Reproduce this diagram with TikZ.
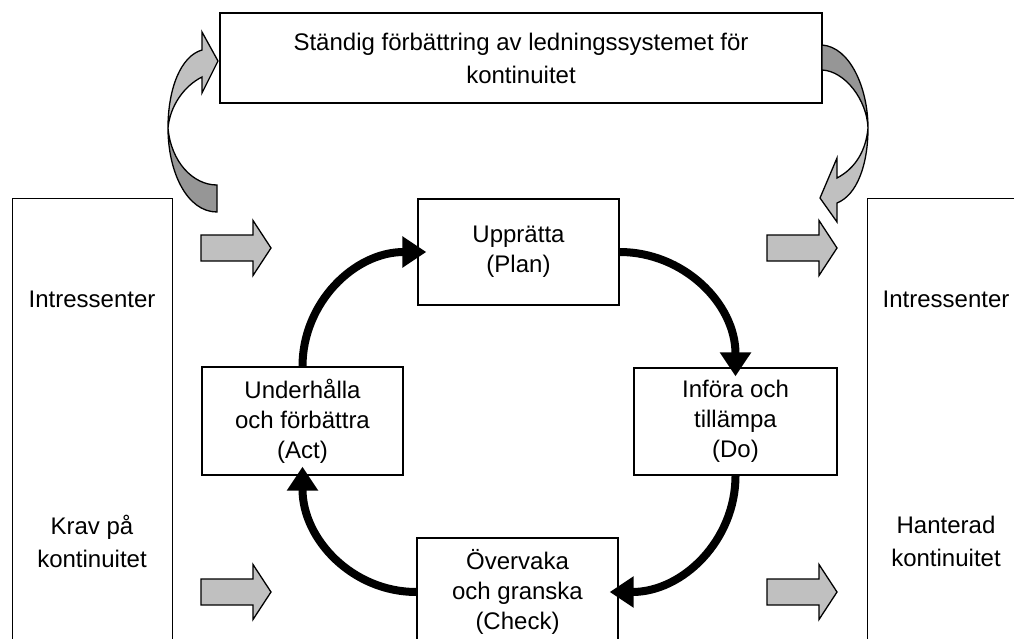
\documentclass[tikz,border=0pt]{standalone}
\usepackage{fontspec}
\setmainfont{Liberation Sans}
\usetikzlibrary{arrows.meta}
\definecolor{arrowlight}{RGB}{192,192,192}
\definecolor{arrowdark}{RGB}{150,150,150}
\begin{document}
\begin{tikzpicture}[x=1pt,y=1pt,
  box/.style={draw=black, line width=1.4pt, fill=white, inner sep=0pt, align=center,
              font=\fontsize{24}{30}\selectfont},
  lbl/.style={inner sep=0pt, align=center, font=\fontsize{24}{33}\selectfont},
  cyc/.style={line width=8pt, -{Triangle[length=24pt,width=30pt]}, shorten >=-9pt},
  blk/.style={draw=black, line width=1.3pt, fill=arrowlight, line join=miter},
  blkdark/.style={blk, fill=arrowdark},
  blockarrow/.pic={\draw[blk] (0,13) -- (52,13) -- (52,27.5) -- (70,0) -- (52,-27.5) -- (52,-13) -- (0,-13) -- cycle;}
]
\path[use as bounding box] (0,0) rectangle (1014,-639);
\begin{scope}
\clip (0,0) rectangle (1014,-639);

% top box
\node[box, minimum width=602pt, minimum height=90pt, font=\fontsize{24}{33}\selectfont]
  (top) at (521,-58) {Ständig förbättring av ledningssystemet för\\kontinuitet};

% big side boxes
\node[box, anchor=north west, minimum width=160pt, minimum height=500pt] (stakeL) at (12,-198) {};
\node[box, anchor=north west, minimum width=200pt, minimum height=500pt] (stakeR) at (867,-198) {};

% cycle boxes
\node[box, minimum width=201pt, minimum height=106pt] (plan) at (518.5,-252) {Upprätta\\(Plan)};
\node[box, minimum width=201pt, minimum height=108pt] (act) at (302.5,-421) {Underhålla\\och förbättra\\(Act)};
\node[box, minimum width=203pt, minimum height=107pt] (do) at (735.5,-421.5) {Införa och\\tillämpa\\(Do)};
\node[box, minimum width=201pt, minimum height=108pt] (check) at (517.5,-592) {Övervaka\\och granska\\(Check)};

% side texts
\node[lbl, anchor=base] (intL) at (92,-307) {Intressenter};
\node[lbl] (kravL) at (92,-541) {Krav på\\kontinuitet};
\node[lbl, anchor=base] (intR) at (946,-307) {Intressenter};
\node[lbl] (hanR) at (946,-541) {Hanterad\\kontinuitet};

% block arrows
\pic at (201,-248) {blockarrow};
\pic at (201,-592) {blockarrow};
\pic at (767,-248) {blockarrow};
\pic at (767,-592) {blockarrow};

% left curved arrow
\draw[blkdark] (168,-128) .. controls (168,-172) and (187,-212) .. (217,-212)
  -- (217,-185) .. controls (193,-185) and (171,-162) .. (168,-128) -- cycle;
\draw[blk] (168,-128) .. controls (168,-88) and (181,-56) .. (202,-50)
  -- (202,-32) -- (218,-61) -- (202,-93) -- (202,-77)
  .. controls (184,-86) and (170,-106) .. (168,-128) -- cycle;

% right curved arrow
\draw[blkdark] (822,-45) .. controls (850,-47) and (868,-88) .. (868,-128)
  .. controls (867,-100) and (845,-71) .. (822,-70) -- cycle;
\draw[blk] (868,-128) .. controls (868,-165) and (857,-195) .. (837,-203)
  -- (837,-222) -- (820,-198) -- (837,-158) -- (837,-178)
  .. controls (856,-168) and (866,-150) .. (868,-128) -- cycle;

% PDCA cycle arrows
\draw[cyc] (act.north) to[out=90,in=180] (plan.west);
\draw[cyc] (plan.east) to[out=0,in=90] (do.north);
\draw[cyc] (do.south) to[out=-90,in=0] (check.east);
\draw[cyc] (check.west) to[out=180,in=-90] (act.south);
\end{scope}
\end{tikzpicture}
\end{document}
